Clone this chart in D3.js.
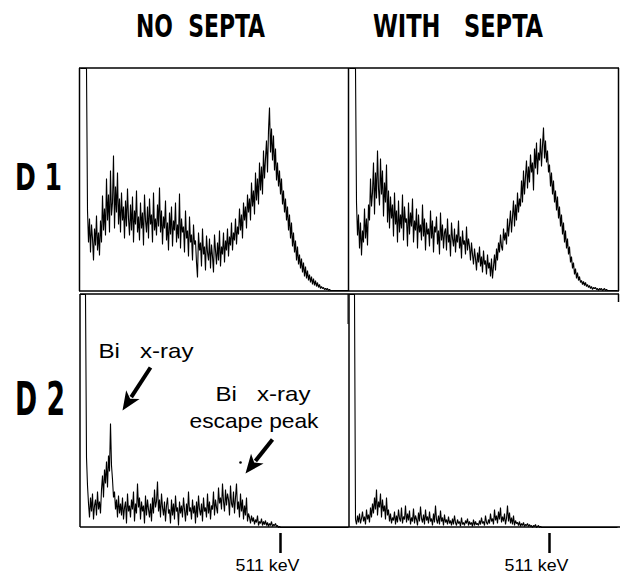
<!DOCTYPE html>
<html><head><meta charset="utf-8">
<script src="https://cdn.jsdelivr.net/npm/d3@7"></script>
<style>body{margin:0;background:#fff}svg{display:block}</style>
</head><body>
<script>
// ---------- data ----------
const columnTitles = ["NO  SEPTA", "WITH   SEPTA"];
const rowLabels = ["D1", "D2"];
// counts per channel (first channels are off-scale overflow)
const d1NoSepta = [
 999,999,999,999,999,999,999,80,48,72,38,66,52,30,62,45,75,40,58,35,
 70,48,95,60,82,55,112,70,96,58,120,75,88,135,62,104,78,118,66,92,
 58,98,70,84,52,90,64,102,72,55,86,60,94,48,80,66,100,58,74,50,
 88,62,78,45,96,70,58,84,52,92,66,76,48,98,60,72,55,86,64,103,
 58,80,46,74,62,90,50,68,40,78,56,84,44,70,60,88,48,66,52,97,
 42,72,58,64,38,80,52,60,34,74,48,56,30,66,46,50,28,13,58,40,
 48,24,62,36,44,20,55,38,30,52,22,46,34,18,56,40,26,48,30,60,
 24,44,36,58,28,50,40,62,34,54,45,68,40,58,50,72,46,64,56,82,
 60,76,52,88,70,84,62,96,78,92,70,108,84,100,76,118,90,112,86,128,
 100,124,96,140,112,132,150,118,160,183,138,162,130,155,120,142,110,128,104,120,
 96,112,86,100,78,92,70,84,60,76,52,68,44,58,38,50,30,44,26,36,
 22,32,18,28,14,24,12,20,10,16,8,14,6,12,5,10,4,8,3,6,
 2,4,2,3,1,2,1,2,0,1,0,0,0,0,0,0,0,0,0,0,
 0,0,0,0,0,0,0,0,0];
const d1WithSepta = [
 999,999,999,999,999,999,999,88,55,76,42,68,35,60,48,82,52,72,45,86,
 70,112,84,98,128,76,118,92,140,102,85,132,96,120,74,108,88,126,68,100,
 62,94,72,86,54,98,66,80,48,90,58,76,62,96,50,84,68,72,44,88,
 56,78,64,92,48,70,60,82,42,76,58,66,50,86,54,72,40,68,56,62,
 44,80,52,70,38,64,58,74,46,60,36,78,50,66,42,58,62,40,72,48,
 56,34,68,52,44,62,38,56,48,70,42,54,32,60,46,50,36,64,40,52,
 44,30,48,36,26,42,32,20,38,28,44,24,34,18,40,26,30,16,36,22,
 28,14,32,12,24,36,20,42,30,48,38,56,44,40,62,50,58,46,72,54,
 66,80,58,74,90,64,86,70,98,78,92,84,110,88,120,96,114,130,102,124,
 108,136,118,128,100,142,122,148,116,138,130,152,124,145,163,132,150,128,140,118,
 126,104,118,96,110,88,100,80,94,72,84,64,76,56,68,48,60,42,52,36,
 44,28,34,22,28,16,22,12,18,10,14,8,10,6,9,5,8,4,6,3,
 5,2,4,1,3,2,3,1,2,0,2,1,2,0,1,2,0,1,0,0,
 0,0,0,0,0,0,0,0,0];
const d2NoSepta = [
 999,999,999,999,999,999,70,42,24,10,30,16,34,8,22,28,12,36,18,26,
 14,38,52,30,58,44,66,40,72,56,104,62,48,30,36,18,28,10,32,14,
 24,12,30,8,20,26,4,34,16,22,10,28,18,36,6,24,14,44,20,30,
 8,26,16,22,4,32,12,28,18,10,24,6,30,14,38,20,26,46,16,28,
 10,34,20,12,26,6,22,30,14,18,4,28,12,24,8,32,16,20,2,26,
 14,22,10,30,18,6,24,12,36,16,20,8,28,14,22,4,26,10,32,18,
 12,24,6,30,16,20,10,34,14,26,8,22,18,36,12,28,20,14,40,24,
 30,18,44,26,16,38,22,34,28,12,42,24,20,36,14,30,44,18,26,10,
 34,16,28,8,22,12,30,6,14,10,4,12,6,10,3,8,5,12,2,6,
 4,9,2,6,3,7,2,5,1,4,2,6,1,3,2,4,1,2,0,1,
 0,0,0,0,0,0,0,0,0,0,0,0,0,0,0,0,0,0,0,0,
 0,0,0,0,0,0,0,0,0,0,0,0,0,0,0,0,0,0,0,0,
 0,0,0,0,0,0,0,0,0,0,0,0,0,0,0,0,0,0,0,0,
 0,0,0,0,0,0,0,0,0];
const d2WithSepta = [
 999,999,999,999,999,999,8,3,12,5,14,4,9,16,6,11,3,18,8,13,
 5,20,10,24,14,30,18,38,12,26,20,34,10,28,16,22,8,30,12,18,
 6,14,4,10,7,16,3,12,5,18,9,6,20,4,11,8,22,5,14,7,
 17,3,10,6,19,4,12,8,2,15,6,21,9,5,13,3,18,7,11,4,
 16,6,9,2,14,5,22,8,4,12,3,17,6,10,2,13,5,8,3,11,
 4,7,2,9,3,12,5,2,8,4,6,1,10,3,5,2,7,4,9,2,
 6,3,5,1,8,2,6,3,4,2,7,3,10,4,6,2,12,5,3,8,
 4,14,6,9,3,18,7,12,4,16,8,20,5,11,6,14,3,9,22,6,
 15,4,10,3,12,2,7,4,5,2,6,1,4,2,5,1,3,2,4,1,
 3,1,2,0,2,1,3,0,1,2,0,1,0,0,0,0,0,0,0,0,
 0,0,0,0,0,0,0,0,0,0,0,0,0,0,0,0,0,0,0,0,
 0,0,0,0,0,0,0,0,0,0,0,0,0,0,0,0,0,0,0,0,
 0,0,0,0,0,0,0,0,0,0,0,0,0,0,0,0,0,0,0,0,
 0,0,0,0,0,0,0,0,0];
const markerKeV = [511];
const markerLabels = ["511 keV"];
const kevPerChannel = 2.555;
const nChannels = 268;

// ---------- layout ----------
const W = 620, H = 578;
const colX = [[80, 348], [349, 618]];
const rowY = [[68, 290], [294, 527]];
const rowMax = [222, 233];
const spectra = [[d1NoSepta, d1WithSepta], [d2NoSepta, d2WithSepta]];

const svg = d3.select("body").append("svg").attr("width", W).attr("height", H);
const ink = "#000";

const xs = colX.map(([a, b]) => d3.scaleLinear().domain([0, nChannels]).range([a + 0.5, a + 0.5 + nChannels]));
const ys = rowY.map(([t, b], r) => d3.scaleLinear().domain([0, rowMax[r]]).range([b + 0.5, t + 0.5]).clamp(true));

// spectra
spectra.forEach((row, r) => row.forEach((vals, c) => {
  const pts = vals.map((v, i) => [i, v]);
  const line = d3.line().x(d => xs[c](d[0])).y(d => ys[r](d[1])).curve(d3.curveLinear);
  svg.append("path").attr("d", line(pts)).attr("fill", "none")
     .attr("stroke", ink).attr("stroke-width", 1.1).attr("stroke-linejoin", "bevel");
}));

// frames
const fr = svg.append("g").attr("stroke", ink).attr("stroke-width", 1.5).attr("fill", "none");
fr.append("line").attr("x1", 79).attr("x2", 619).attr("y1", rowY[0][0]).attr("y2", rowY[0][0]);
fr.append("line").attr("x1", 79).attr("x2", 619).attr("y1", rowY[0][1] + 1).attr("y2", rowY[0][1] + 1);
[79.5, 348.5, 618.5].forEach(x => fr.append("line").attr("x1", x).attr("x2", x).attr("y1", rowY[0][0]).attr("y2", rowY[0][1] + 1));
fr.append("line").attr("x1", 80).attr("x2", 619).attr("y1", rowY[1][0]).attr("y2", rowY[1][0]);
fr.append("line").attr("x1", 80).attr("x2", 620).attr("y1", rowY[1][1]).attr("y2", rowY[1][1]);
[80, 349].forEach(x => fr.append("line").attr("x1", x).attr("x2", x).attr("y1", rowY[1][0]).attr("y2", rowY[1][1]));
fr.append("line").attr("x1", 618.5).attr("x2", 618.5).attr("y1", rowY[1][0]).attr("y2", rowY[1][0] + 8);
fr.append("line").attr("x1", 348).attr("x2", 348).attr("y1", rowY[1][0]).attr("y2", rowY[1][0] + 30).attr("stroke-width", 1);

// 511 keV markers
[0, 1].forEach(c => {
  markerKeV.forEach((k, j) => {
    const x = xs[c](k / kevPerChannel);
    svg.append("line").attr("x1", x).attr("x2", x).attr("y1", rowY[1][1] + 6).attr("y2", rowY[1][1] + 26)
       .attr("stroke", ink).attr("stroke-width", 2.5);
    svg.append("text").attr("x", x - 13).attr("y", rowY[1][1] + 44)
       .attr("text-anchor", "middle").attr("font-family", "Liberation Sans, Arial, sans-serif")
       .attr("font-size", 16).attr("fill", ink)
       .attr("textLength", 64).attr("lengthAdjust", "spacingAndGlyphs").text(markerLabels[j]);
  });
});

// titles
const condensed = "'Liberation Sans Narrow', 'DejaVu Sans Condensed', sans-serif";
const titlePos = [[136, 129], [373, 170]];
columnTitles.forEach((t, i) => {
  svg.append("text").attr("x", titlePos[i][0]).attr("y", 37)
     .attr("font-family", condensed).attr("font-size", 32).attr("font-weight", "bold")
     .attr("fill", ink).attr("xml:space", "preserve").style("white-space", "pre")
     .attr("textLength", titlePos[i][1]).attr("lengthAdjust", "spacingAndGlyphs").text(t);
});
// row labels
const rowLabelPos = [[190, 37, 47], [415, 46, 50]];
rowLabels.forEach((t, i) => {
  svg.append("text").attr("x", 15).attr("y", rowLabelPos[i][0])
     .attr("font-family", condensed).attr("font-size", rowLabelPos[i][1]).attr("font-weight", "bold")
     .attr("fill", ink).attr("xml:space", "preserve").style("white-space", "pre")
     .attr("textLength", rowLabelPos[i][2]).attr("lengthAdjust", "spacingAndGlyphs").text(t.split("").join(" "));
});

// annotations (in channel / count units of the D2 NO SEPTA panel)
const ax = xs[0], ay = ys[1];
const notes = [
  {text: "Bi   x-ray", ch: 18, cnt: 170, len: 95, size: 21},
  {text: "Bi   x-ray", ch: 135, cnt: 127, len: 95, size: 21},
  {text: "escape peak", ch: 109, cnt: 100, len: 129, size: 21}
];
notes.forEach(n => {
  svg.append("text").attr("x", ax(n.ch)).attr("y", ay(n.cnt))
     .attr("font-family", "Liberation Sans, Arial, sans-serif").attr("font-size", n.size)
     .attr("fill", ink).attr("xml:space", "preserve").style("white-space", "pre")
     .attr("textLength", n.len).attr("lengthAdjust", "spacingAndGlyphs").text(n.text);
});
const arrows = [
  {from: [70, 160], to: [42, 117]},
  {from: [192, 88], to: [165, 54]}
];
arrows.forEach(a => {
  const x1 = ax(a.from[0]), y1 = ay(a.from[1]), x2 = ax(a.to[0]), y2 = ay(a.to[1]);
  const ang = Math.atan2(y2 - y1, x2 - x1);
  const hl = 19, hw = 8;
  const bx = x2 - hl * Math.cos(ang), by = y2 - hl * Math.sin(ang);
  svg.append("line").attr("x1", x1).attr("y1", y1).attr("x2", bx + 3 * Math.cos(ang)).attr("y2", by + 3 * Math.sin(ang))
     .attr("stroke", ink).attr("stroke-width", 4);
  const px = -Math.sin(ang), py = Math.cos(ang);
  const inset = 5;
  const ix = x2 - (hl - inset) * Math.cos(ang), iy = y2 - (hl - inset) * Math.sin(ang);
  svg.append("path").attr("d", `M${x2},${y2}L${bx + hw * px},${by + hw * py}L${ix},${iy}L${bx - hw * px},${by - hw * py}Z`)
     .attr("fill", ink);
});
svg.append("circle").attr("cx", ax(160)).attr("cy", ay(65)).attr("r", 1.3).attr("fill", ink);
</script>
</body></html>
